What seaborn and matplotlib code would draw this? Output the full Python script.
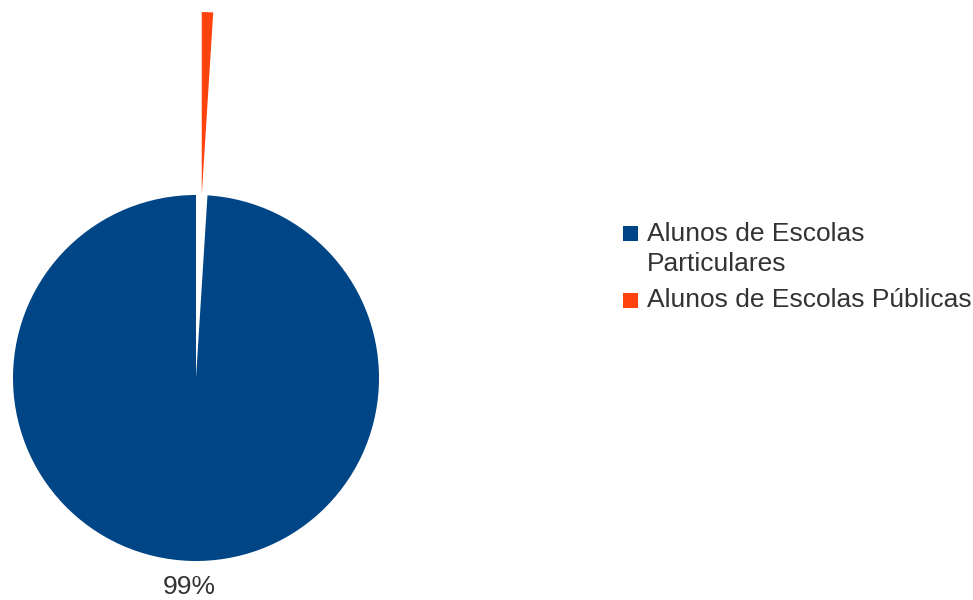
import matplotlib
matplotlib.use("Agg")
import matplotlib.pyplot as plt
from matplotlib.patches import Patch, Rectangle
from matplotlib.legend_handler import HandlerPatch
import seaborn as sns

categories = ["Alunos de Escolas\nParticulares", "Alunos de Escolas Públicas"]
values = [99, 1]
pct_labels = ["99%", ""]
colors = ["#004586", "#ff420e"]

sns.set_theme(style="white")
plt.rcParams["font.family"] = ["Liberation Sans", "DejaVu Sans"]

W, H = 973, 600
cx, cy, r = 196, 378, 183
FS = 19
TEXT = "#333333"

fig = plt.figure(figsize=(W / 100, H / 100), dpi=100)
ax = fig.add_axes([0, 0, 1, 1])

wedges, texts = ax.pie(
    values,
    colors=colors,
    startangle=90,
    counterclock=True,
    explode=[0, 1.0],
    labels=pct_labels,
    labeldistance=1.14,
    radius=1,
    frame=True,
    wedgeprops=dict(linewidth=0),
    textprops=dict(fontsize=FS, color=TEXT),
)
for t in texts:
    t.set_ha("center")
    t.set_va("center")

ax.set_xlim(-cx / r, (W - cx) / r)
ax.set_ylim(-(H - cy) / r, cy / r)
ax.set_aspect("equal", adjustable="datalim")
ax.set_axis_off()


# square legend keys, sitting on the baseline of the first line of each label
def top_square(legend, orig_handle, xdescent, ydescent, width, height, fontsize):
    n_lines = legend_lines.get(id(orig_handle), 1)
    shift = (n_lines - 1) * 0.68 * fontsize - 0.08 * fontsize
    return Rectangle((-xdescent, -ydescent + shift), width, width)


handles = [Patch(facecolor=c, edgecolor="none") for c in colors]
legend_lines = {id(h): lab.count("\n") + 1 for h, lab in zip(handles, categories)}

leg = fig.legend(
    handles, categories,
    loc="upper left",
    bbox_to_anchor=(622.5 / W, 1 - 222 / H),
    frameon=False,
    fontsize=FS,
    handlelength=0.57,
    handleheight=0.57,
    handletextpad=0.36,
    labelspacing=0.46,
    borderaxespad=0,
    borderpad=0,
    labelcolor=TEXT,
    handler_map={Patch: HandlerPatch(patch_func=top_square)},
)
for t in leg.get_texts():
    t.set_linespacing(1.3)

fig.savefig("out.png", dpi=100)
